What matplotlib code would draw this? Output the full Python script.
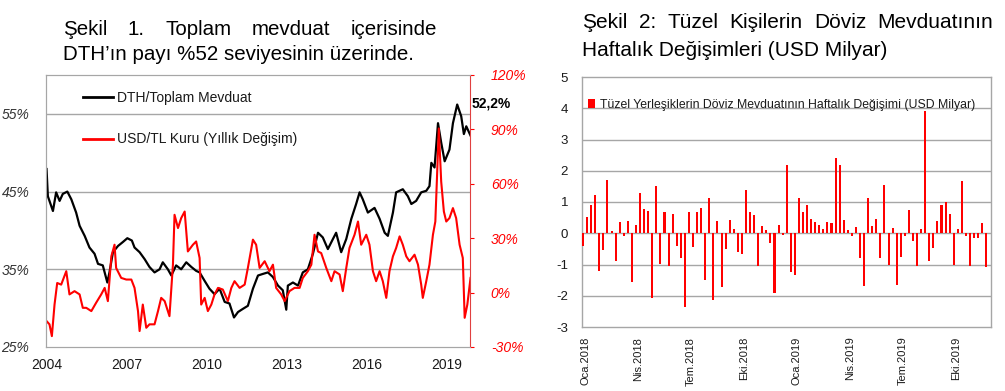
import matplotlib
matplotlib.use("Agg")
import matplotlib.pyplot as plt
import numpy as np
from matplotlib.lines import Line2D

plt.rcParams['font.family'] = ['Liberation Sans', 'DejaVu Sans']

# ---------------- Data: Chart 1 ----------------
dth_year = [2004.00, 2004.05, 2004.24, 2004.36, 2004.49, 2004.61, 2004.78, 2004.93, 2005.11, 2005.24,
            2005.43, 2005.61, 2005.80, 2005.93, 2006.11, 2006.28, 2006.36, 2006.49, 2006.68, 2006.86,
            2007.03, 2007.20, 2007.30, 2007.49, 2007.68, 2007.86, 2008.05, 2008.24, 2008.36, 2008.55,
            2008.68, 2008.86, 2009.05, 2009.24, 2009.43, 2009.61, 2009.74, 2009.93, 2010.11, 2010.30,
            2010.49, 2010.68, 2010.86, 2011.03, 2011.18, 2011.36, 2011.55, 2011.74, 2011.93, 2012.11,
            2012.30, 2012.49, 2012.68, 2012.86, 2012.99, 2013.05, 2013.24, 2013.43, 2013.61, 2013.80,
            2013.99, 2014.18, 2014.36, 2014.55, 2014.74, 2014.86, 2015.05, 2015.24, 2015.43, 2015.61,
            2015.74, 2015.86, 2016.05, 2016.30, 2016.49, 2016.68, 2016.80, 2016.99, 2017.11, 2017.36,
            2017.55, 2017.68, 2017.86, 2018.05, 2018.24, 2018.36, 2018.43, 2018.55, 2018.68, 2018.80,
            2018.93, 2019.11, 2019.24, 2019.40, 2019.55, 2019.65, 2019.74, 2019.90]
dth_share = [47.9, 44.4, 42.5, 44.9, 43.8, 44.7, 45.0, 44.0, 42.3, 40.6,
             39.3, 37.8, 37.0, 35.7, 35.5, 33.3, 34.6, 37.2, 38.0, 38.5,
             39.0, 38.7, 37.8, 37.2, 36.3, 35.3, 34.6, 35.0, 35.9, 35.0,
             34.2, 35.5, 35.0, 35.9, 35.3, 34.8, 34.6, 33.5, 32.5, 31.8,
             32.5, 30.8, 30.6, 28.8, 29.5, 29.9, 30.3, 32.5, 34.2, 34.4,
             34.6, 34.0, 32.9, 32.3, 29.8, 32.9, 33.3, 32.9, 34.6, 35.0,
             37.0, 39.7, 39.1, 37.6, 38.9, 39.7, 37.2, 38.9, 41.5, 43.4,
             44.9, 44.0, 42.3, 42.9, 41.5, 39.7, 39.3, 42.3, 44.9, 45.3,
             44.4, 43.4, 43.8, 44.9, 45.1, 45.7, 48.7, 48.1, 53.8, 51.3,
             48.9, 50.4, 53.8, 56.2, 54.7, 52.4, 53.4, 52.2]

usd_year = [2004.00, 2004.11, 2004.20, 2004.30, 2004.40, 2004.55, 2004.74, 2004.86, 2005.05, 2005.24,
            2005.36, 2005.49, 2005.68, 2005.86, 2006.05, 2006.18, 2006.30, 2006.43, 2006.55, 2006.61,
            2006.80, 2006.99, 2007.18, 2007.30, 2007.43, 2007.49, 2007.61, 2007.74, 2007.86, 2008.05,
            2008.18, 2008.30, 2008.43, 2008.61, 2008.74, 2008.80, 2008.93, 2009.05, 2009.18, 2009.30,
            2009.49, 2009.61, 2009.74, 2009.80, 2009.93, 2010.05, 2010.18, 2010.30, 2010.43, 2010.61,
            2010.80, 2010.93, 2011.05, 2011.24, 2011.43, 2011.55, 2011.74, 2011.86, 2011.99, 2012.18,
            2012.36, 2012.49, 2012.61, 2012.80, 2012.93, 2013.11, 2013.30, 2013.49, 2013.61, 2013.80,
            2013.93, 2014.05, 2014.18, 2014.30, 2014.49, 2014.68, 2014.80, 2014.99, 2015.11, 2015.24,
            2015.36, 2015.55, 2015.68, 2015.80, 2015.99, 2016.11, 2016.24, 2016.36, 2016.49, 2016.61,
            2016.74, 2016.86, 2016.99, 2017.11, 2017.24, 2017.36, 2017.49, 2017.61, 2017.80, 2017.93,
            2018.05, 2018.11, 2018.24, 2018.36, 2018.49, 2018.58, 2018.65, 2018.71, 2018.80, 2018.90,
            2018.99, 2019.11, 2019.24, 2019.36, 2019.49, 2019.61, 2019.68, 2019.78, 2019.90]
usd_yoy = [-15.7, -17.5, -24.0, -6.6, 5.3, 4.4, 11.8, -1.0, 0.8, -1.0,
           -8.4, -8.4, -10.2, -5.6, -1.0, 2.6, -4.7, 20.0, 26.4, 13.6,
           8.1, 7.2, 7.2, 2.6, -10.2, -21.2, -6.6, -19.4, -17.5, -17.5,
           -10.2, -2.9, -4.7, -13.0, 15.4, 42.9, 35.6, 41.1, 44.7, 22.7,
           26.4, 28.2, 19.1, -6.6, -2.9, -10.2, -6.6, -1.0, 2.6, 1.7,
           -4.7, 2.6, 6.3, 2.6, 4.4, 13.6, 29.2, 26.4, 13.6, 17.3,
           11.8, 15.4, 2.6, -1.0, -4.7, 0.8, 2.6, 2.6, 8.1, 11.8,
           15.4, 31.9, 22.7, 21.8, 13.6, 6.3, 11.8, 10.0, 0.8, 13.6,
           24.6, 31.9, 39.2, 26.4, 31.9, 26.4, 11.8, 6.3, 11.8, 6.3,
           -2.9, 11.8, 20.0, 24.6, 31.0, 26.4, 20.0, 17.3, 20.9, 15.4,
           4.4, -2.9, 6.3, 15.4, 31.9, 39.2, 66.7, 90.5, 61.2, 44.7,
           39.2, 41.1, 46.6, 41.1, 26.4, 19.1, -13.9, -6.6, 8.1]

year_ticks = [2004, 2007, 2010, 2013, 2016, 2019]
left_ticks = [25, 35, 45, 55]
right_ticks = [-30, 0, 30, 60, 90, 120]
last_label = "52,2%"

# ---------------- Data: Chart 2 ----------------
weekly_change = [-0.4, 0.53, 0.9, 1.22, -1.22, -0.55, 1.72, 0.08, -0.9, 0.35,
                 -0.1, 0.38, -1.55, 0.28, 1.28, 0.78, 0.72, -2.08, 1.5, -0.97,
                 0.68, -1.05, 0.63, -0.4, -0.8, -2.37, 0.68, -0.45, 0.68, 0.82,
                 -1.48, 1.13, -2.15, 0.38, -1.72, -0.5, 0.42, 0.13, -0.6, -0.67,
                 1.37, 0.68, 0.6, -1.05, 0.23, 0.1, -0.32, -1.9, 0.28, -0.05,
                 2.18, -1.25, -1.33, 1.13, 0.68, 0.92, 0.45, 0.35, 0.28, 0.13,
                 0.35, 0.32, 2.4, 2.18, 0.42, 0.1, -0.1, 0.2, -0.78, -1.68,
                 1.13, 0.23, 0.45, -0.8, 1.53, -1.03, 0.16, -1.65, -0.75, -0.1,
                 0.75, -0.25, -1.05, 0.13, 3.9, -0.9, -0.48, 0.38, 0.92, 1.0,
                 0.62, -1.02, 0.13, 1.68, -0.08, -1.05, -0.15, -0.15, 0.32, -1.08]
quarter_labels = ["Oca.2018", "Nis.2018", "Tem.2018", "Eki.2018",
                  "Oca.2019", "Nis.2019", "Tem.2019", "Eki.2019"]
weeks_per_quarter = 13

title1_line1 = "Şekil 1. Toplam mevduat içerisinde"
title1_line2 = "DTH’ın payı %52 seviyesinin üzerinde."
title2_line1 = "Şekil 2: Tüzel Kişilerin Döviz Mevduatının"
title2_line2 = "Haftalık Değişimleri (USD Milyar)"

RED = '#FF0000'
GRID = '#A6A6A6'
TXT = '#1a1a1a'
W, H = 1005, 391

fig = plt.figure(figsize=(10.05, 3.91), dpi=100)
renderer = fig.canvas.get_renderer()


def justified(line, x0, x1, ybase, size):
    words = line.split()
    texts = [fig.text(x0 / W, 1 - ybase / H, w, fontsize=size, color='black',
                      ha='left', va='baseline') for w in words]
    widths = [t.get_window_extent(renderer).width for t in texts]
    gap = ((x1 - x0) - sum(widths)) / (len(words) - 1)
    x = x0
    for t, wd in zip(texts, widths):
        t.set_x(x / W)
        x += wd + gap


# ---------------- Chart 1 ----------------
ax1 = fig.add_axes([46 / W, 1 - 347 / H, 424 / W, 272 / H])
ax2 = ax1.twinx()
ax1.plot(dth_year, dth_share, color='black', lw=1.6, zorder=3)
ax2.plot(usd_year, usd_yoy, color=RED, lw=1.5, zorder=2)
ax1.set_xlim(2003.98, 2019.88)
ax1.set_ylim(25, 60)
ax2.set_ylim(-30, 120)
ax1.set_xticks(year_ticks)
ax1.set_xticklabels([str(y) for y in year_ticks], fontsize=10, color=TXT)
ax1.set_yticks(left_ticks)
ax1.set_yticklabels([f"{v}%" for v in left_ticks], fontsize=10, style='italic', color='#333333')
ax2.set_yticks(right_ticks)
ax2.set_yticklabels([f"{v}%" for v in right_ticks], fontsize=10, style='italic', color=RED)
for v in left_ticks[1:]:
    ax1.axhline(v, color=GRID, lw=1.0, zorder=1)
ax1.tick_params(axis='x', length=0, pad=8)
ax1.tick_params(axis='y', length=0, pad=12)
ax2.tick_params(axis='y', length=3, colors=RED, pad=12, labelcolor=RED)
for s in ['left', 'top', 'bottom']:
    ax1.spines[s].set_color(GRID)
    ax2.spines[s].set_color(GRID)
ax2.spines['right'].set_color('#E04040')
ax1.spines['right'].set_visible(False)
ax1.patch.set_visible(False)

h = [Line2D([], [], color='black', lw=2), Line2D([], [], color=RED, lw=2)]
leg = ax1.legend(h, ["DTH/Toplam Mevduat", "USD/TL Kuru (Yıllık Değişim)"],
                 loc='upper left', bbox_to_anchor=(0.087, 0.94), frameon=False,
                 fontsize=10, handlelength=2.2, handletextpad=0.25, labelspacing=1.95,
                 borderpad=0, borderaxespad=0)
for t in leg.get_texts():
    t.set_color(TXT)
ax1.text(1.003, (347 - 103) / 272, last_label, transform=ax1.transAxes,
         fontsize=10, fontweight='bold', color='black', ha='left', va='center')

justified(title1_line1, 63, 437, 35, 14.8)
fig.text(63 / W, 1 - 60 / H, title1_line2, fontsize=14.8, color='black',
         ha='left', va='baseline')

# ---------------- Chart 2 ----------------
ax3 = fig.add_axes([582 / W, 1 - 327 / H, 409 / W, 250 / H])
idx = np.arange(len(weekly_change))
ax3.bar(idx, weekly_change, width=0.5, color=RED, zorder=3,
        label="Tüzel Yerleşiklerin Döviz Mevduatının Haftalık Değişimi (USD Milyar)")
ax3.set_xlim(-0.25, len(weekly_change) + 0.15)
ax3.set_ylim(-3, 5)
ax3.set_yticks(range(-3, 6))
ax3.set_yticklabels([str(v) for v in range(-3, 6)], fontsize=9.5, color=TXT)
for v in range(-2, 5):
    ax3.axhline(v, color=GRID, lw=1.0, zorder=1)
qpos = [i * weeks_per_quarter + 0.5 for i in range(len(quarter_labels))]
ax3.set_xticks(qpos)
ax3.set_xticklabels(quarter_labels, rotation=90, fontsize=8, color=TXT, va='top')
ax3.tick_params(axis='x', length=0, pad=7)
ax3.tick_params(axis='y', length=0, pad=10)
for s in ax3.spines.values():
    s.set_color(GRID)
    s.set_linewidth(1.0)
leg3 = ax3.legend(loc='upper left', bbox_to_anchor=(0.015, 0.912), frameon=False,
                  fontsize=8.8, handlelength=0.55, handleheight=0.7, handletextpad=0.4,
                  borderpad=0, borderaxespad=0)
for t in leg3.get_texts():
    t.set_color(TXT)

justified(title2_line1, 582, 993, 28, 15)
fig.text(582 / W, 1 - 56 / H, title2_line2, fontsize=15, color='black',
         ha='left', va='baseline')

fig.savefig("out.png", dpi=100)
